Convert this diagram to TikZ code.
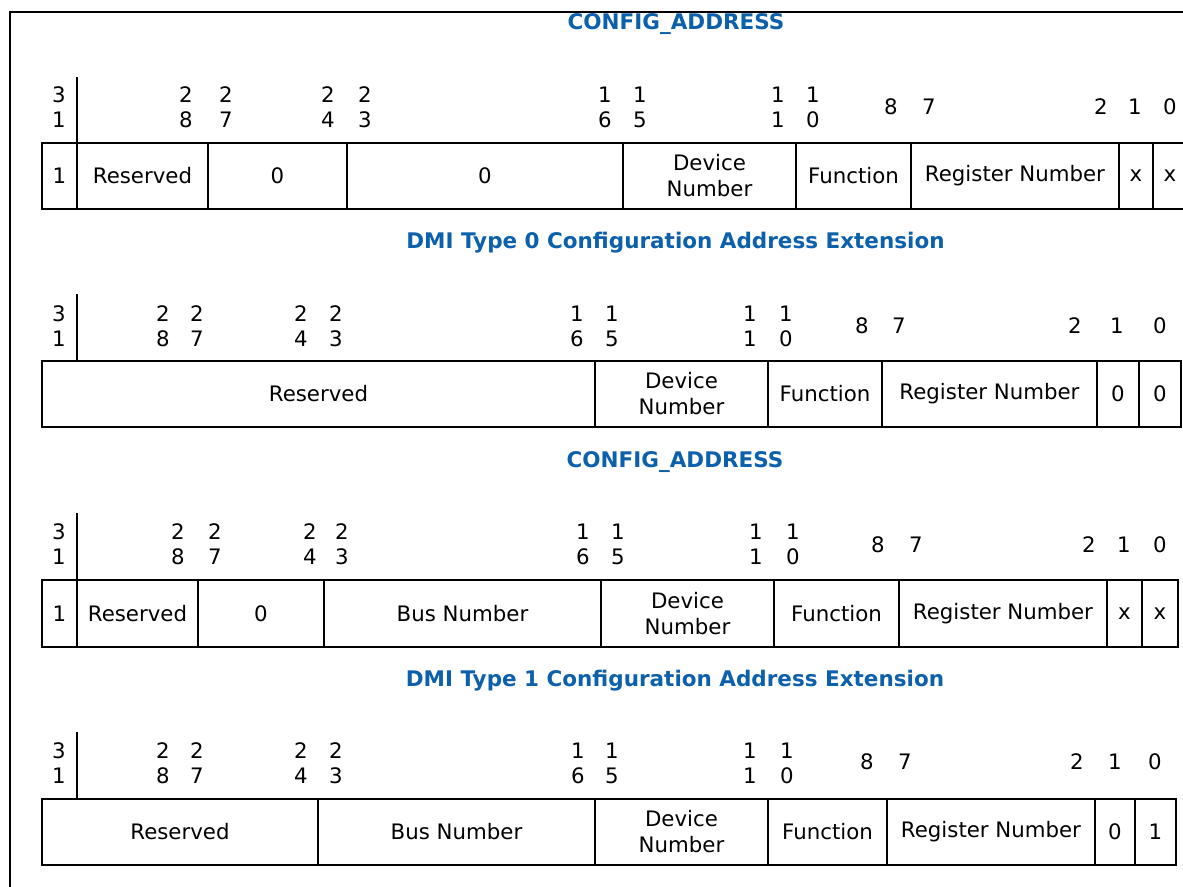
\documentclass[tikz,border=0pt]{standalone}
\usepackage{fontspec}
\setmainfont{DejaVu Sans}
\definecolor{titleblue}{RGB}{12,96,172}
\begin{document}
\begin{tikzpicture}[x=1pt,y=-1pt,
  every node/.style={font=\fontsize{21.3}{26}\selectfont, inner sep=0pt, outer sep=0pt},
  cellbox/.style={draw=black, line width=1.7pt, align=center, anchor=center},
  bitlbl/.style={align=center, anchor=center, font=\fontsize{21.3}{25}\selectfont},
  ttl/.style={font=\fontsize{21.5}{26}\selectfont\bfseries, text=titleblue, anchor=center},
  tick/.style={line width=1.7pt}]
\useasboundingbox (0,0) rectangle (1183,886);
\fill[white] (0,0) rectangle (1183,886);
\newcommand\fcell[6]{\node[cellbox, minimum width={(#3-#2)*1pt}, minimum height={(#5-#4)*1pt}] (#1) at ({(#2+#3)/2},{(#4+#5)/2}) {#6};}
\newcommand\bitl[4]{\node[bitlbl] (#1) at (#2,#3) {#4};}
% outer frame
\coordinate (frbl) at (10,900);
\coordinate (frtl) at (10,12);
\coordinate (frtr) at (1195,12);
\draw[line width=1.7pt] (frbl) -- (frtl) -- (frtr);

% ===== Table 1 =====
\node[ttl] (ta) at (676,24) {CONFIG\_ADDRESS};
\bitl{a31}{59}{107.5}{3\\1}
\bitl{a28}{186}{107.5}{2\\8}
\bitl{a27}{226}{107.5}{2\\7}
\bitl{a24}{328}{107.5}{2\\4}
\bitl{a23}{365}{107.5}{2\\3}
\bitl{a16}{605}{107.5}{1\\6}
\bitl{a15}{640}{107.5}{1\\5}
\bitl{a11}{778}{107.5}{1\\1}
\bitl{a10}{813}{107.5}{1\\0}
\bitl{a8}{891}{107}{8}
\bitl{a7}{929}{107}{7}
\bitl{a2}{1101}{107}{2}
\bitl{a1}{1135}{107}{1}
\bitl{a0}{1170}{107}{0}
\fcell{ac1}{42}{77}{143}{209}{1}
\fcell{ac2}{77}{208}{143}{209}{Reserved}
\fcell{ac3}{208}{347}{143}{209}{0}
\fcell{ac4}{347}{623}{143}{209}{0}
\fcell{ac5}{623}{796}{143}{209}{Device\\Number}
\fcell{ac6}{796}{911}{143}{209}{Function}
\fcell{ac7}{911}{1119}{143}{209}{Register Number}
\fcell{ac8}{1119}{1153}{143}{209}{x}
\fcell{ac9}{1153}{1187}{143}{209}{x}
\coordinate (atick) at (77,77);
\draw[tick] (atick) -- (ac1.north east);

% ===== Table 2 =====
\node[ttl] (tb) at (675.5,243) {DMI Type 0 Configuration Address Extension};
\bitl{b31}{59}{326}{3\\1}
\bitl{b28}{163}{326}{2\\8}
\bitl{b27}{197}{326}{2\\7}
\bitl{b24}{301}{326}{2\\4}
\bitl{b23}{336}{326}{2\\3}
\bitl{b16}{577}{326}{1\\6}
\bitl{b15}{612}{326}{1\\5}
\bitl{b11}{750}{326}{1\\1}
\bitl{b10}{786}{326}{1\\0}
\bitl{b8}{862}{326}{8}
\bitl{b7}{899}{326}{7}
\bitl{b2}{1075}{326}{2}
\bitl{b1}{1117}{326}{1}
\bitl{b0}{1160}{326}{0}
\fcell{bc1}{42}{595}{361}{427}{Reserved}
\fcell{bc2}{595}{768}{361}{427}{Device\\Number}
\fcell{bc3}{768}{882}{361}{427}{Function}
\fcell{bc4}{882}{1097}{361}{427}{Register Number}
\fcell{bc5}{1097}{1139}{361}{427}{0}
\fcell{bc6}{1139}{1181}{361}{427}{0}
\coordinate (btick) at (77,294);
\draw[tick] (btick) -- (btick |- bc1.north);

% ===== Table 3 =====
\node[ttl] (tc) at (675,462) {CONFIG\_ADDRESS};
\bitl{c31}{59}{544}{3\\1}
\bitl{c28}{178}{544}{2\\8}
\bitl{c27}{215}{544}{2\\7}
\bitl{c24}{310}{544}{2\\4}
\bitl{c23}{342}{544}{2\\3}
\bitl{c16}{583}{544}{1\\6}
\bitl{c15}{618}{544}{1\\5}
\bitl{c11}{756}{544}{1\\1}
\bitl{c10}{793}{544}{1\\0}
\bitl{c8}{878}{545}{8}
\bitl{c7}{916}{545}{7}
\bitl{c2}{1089}{545}{2}
\bitl{c1}{1124}{545}{1}
\bitl{c0}{1160}{545}{0}
\fcell{cc1}{42}{77}{580}{647}{1}
\fcell{cc2}{77}{198}{580}{647}{Reserved}
\fcell{cc3}{198}{324}{580}{647}{0}
\fcell{cc4}{324}{601}{580}{647}{Bus Number}
\fcell{cc5}{601}{774}{580}{647}{Device\\Number}
\fcell{cc6}{774}{899}{580}{647}{Function}
\fcell{cc7}{899}{1107}{580}{647}{Register Number}
\fcell{cc8}{1107}{1142}{580}{647}{x}
\fcell{cc9}{1142}{1178}{580}{647}{x}
\coordinate (ctick) at (77,513);
\draw[tick] (ctick) -- (cc1.north east);

% ===== Table 4 =====
\node[ttl] (td) at (675,681) {DMI Type 1 Configuration Address Extension};
\bitl{d31}{59}{763.5}{3\\1}
\bitl{d28}{163}{763.5}{2\\8}
\bitl{d27}{197}{763.5}{2\\7}
\bitl{d24}{301}{763.5}{2\\4}
\bitl{d23}{336}{763.5}{2\\3}
\bitl{d16}{578}{763.5}{1\\6}
\bitl{d15}{612}{763.5}{1\\5}
\bitl{d11}{750}{763.5}{1\\1}
\bitl{d10}{787}{763.5}{1\\0}
\bitl{d8}{867}{762}{8}
\bitl{d7}{905}{762}{7}
\bitl{d2}{1077}{762}{2}
\bitl{d1}{1115}{762}{1}
\bitl{d0}{1155}{762}{0}
\fcell{dc1}{42}{318}{799}{865}{Reserved}
\fcell{dc2}{318}{595}{799}{865}{Bus Number}
\fcell{dc3}{595}{768}{799}{865}{Device\\Number}
\fcell{dc4}{768}{887}{799}{865}{Function}
\fcell{dc5}{887}{1095}{799}{865}{Register Number}
\fcell{dc6}{1095}{1135}{799}{865}{0}
\fcell{dc7}{1135}{1176}{799}{865}{1}
\coordinate (dtick) at (77,732);
\draw[tick] (dtick) -- (dtick |- dc1.north);
\end{tikzpicture}
\end{document}
